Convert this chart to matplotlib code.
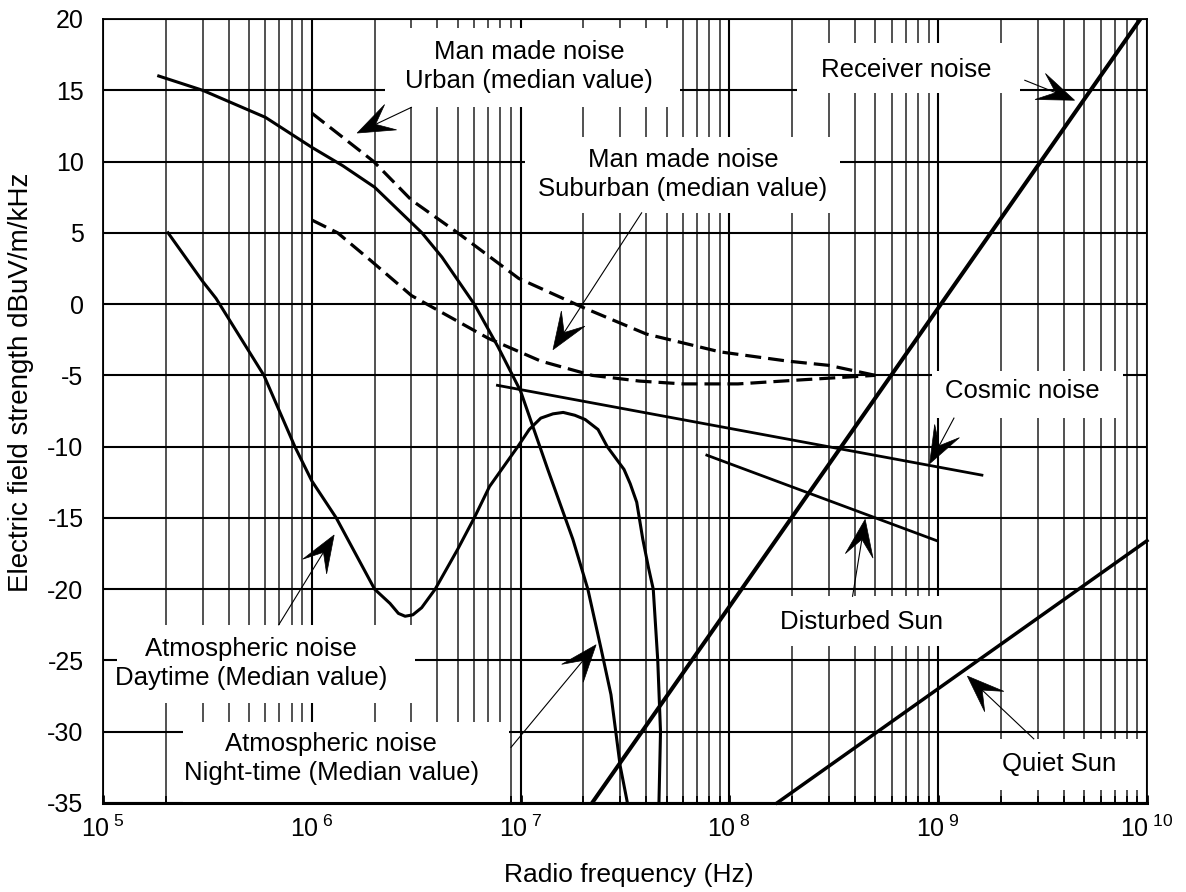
import matplotlib
matplotlib.use("Agg")
import matplotlib.pyplot as plt
from matplotlib.patches import Rectangle, Polygon
from matplotlib.transforms import IdentityTransform
from matplotlib.ticker import FixedLocator, NullFormatter
import numpy as np

plt.rcParams['font.family'] = ['Liberation Sans', 'DejaVu Sans']
plt.rcParams['mathtext.fontset'] = 'custom'
plt.rcParams['mathtext.rm'] = 'Liberation Sans'
plt.rcParams['mathtext.it'] = 'Liberation Sans:italic'
plt.rcParams['mathtext.bf'] = 'Liberation Sans:bold'

# ---- values (Hz, dBuV/m/kHz) ----
night_f = [1.85e5, 3e5, 6e5, 1e6, 1.41e6, 2e6, 3.37e6, 4.2e6, 6e6, 7.8e6, 1e7,
           1.35e7, 1.78e7, 2.1e7, 2.44e7, 2.71e7, 3e7, 3.25e7]
night_db = [16.0, 15.0, 13.1, 11.0, 9.7, 8.2, 5.0, 3.3, 0.0, -3.0, -6.1,
            -11.6, -16.5, -20.0, -24.3, -27.4, -32.4, -35.0]

day_f = [2.05e5, 3.0e5, 3.48e5, 5.9e5, 8.3e5, 1.0e6, 1.31e6, 2.0e6, 2.37e6, 2.6e6,
         2.8e6, 3.05e6, 3.36e6, 3.9e6, 5e6, 6e6, 7.1e6, 9.7e6, 1.1e7, 1.25e7, 1.43e7,
         1.6e7, 1.82e7, 2.04e7, 2.35e7, 2.6e7, 3.13e7, 3.35e7, 3.6e7, 3.85e7, 4.1e7,
         4.32e7, 4.54e7, 4.68e7, 4.6e7]
day_db = [5.0, 1.6, 0.4, -5.0, -10.0, -12.4, -15.0, -20.0, -21.0, -21.7,
          -21.9, -21.8, -21.3, -20.0, -17.2, -15.0, -12.8, -10.0, -8.8, -8.0, -7.7,
          -7.6, -7.8, -8.1, -8.8, -10.0, -11.6, -12.6, -13.9, -16.5, -18.5,
          -20.0, -25.0, -30.0, -35.0]

urban_f = [1e6, 1.98e6, 3e6, 5e6, 9.8e6, 2e7, 4e7, 9e7, 1.9e8, 3e8, 5e8]
urban_db = [13.4, 10.0, 7.3, 5.0, 1.8, -0.25, -2.1, -3.35, -4.0, -4.3, -5.0]

suburban_f = [1e6, 1.33e6, 1.9e6, 3e6, 7e6, 1.25e7, 2.2e7, 3.7e7, 6e7, 1.1e8, 2.3e8, 5e8]
suburban_db = [5.9, 5.0, 3.1, 0.6, -2.4, -4.0, -5.0, -5.4, -5.6, -5.6, -5.3, -5.0]

cosmic_f = [7.75e6, 1.62e9]
cosmic_db = [-5.7, -12.0]

disturbed_f = [7.8e7, 9.85e8]
disturbed_db = [-10.6, -16.6]

quiet_f = [1.69e8, 1e10]
quiet_db = [-35.0, -16.6]

receiver_f = [2.2e7, 9.3e9]
receiver_db = [-35.0, 20.0]

decades = [1e5, 1e6, 1e7, 1e8, 1e9, 1e10]
decade_labels = [r'$\mathregular{10^{\ 5}}$', r'$\mathregular{10^{\ 6}}$', r'$\mathregular{10^{\ 7}}$',
                 r'$\mathregular{10^{\ 8}}$', r'$\mathregular{10^{\ 9}}$', r'$\mathregular{10^{\ 10}}$']
db_ticks = [20, 15, 10, 5, 0, -5, -10, -15, -20, -25, -30, -35]
db_labels = ['20', '15', '10', '5', '0', '-5', '-10', '-15', '-20', '-25', '-30', '-35']

fig = plt.figure(figsize=(11.86, 8.92), dpi=100)
ax = fig.add_axes([0.0868, 0.0998, 0.8803, 0.8789])
ax.set_xscale('log')
ax.set_xlim(1e5, 1e10)
ax.set_ylim(-35, 20)

ax.xaxis.set_major_locator(FixedLocator(decades))
ax.set_xticklabels(decade_labels)
minor = [m * d for d in decades[:-1] for m in range(2, 10)]
ax.xaxis.set_minor_locator(FixedLocator(minor))
ax.xaxis.set_minor_formatter(NullFormatter())
ax.set_yticks(db_ticks)
ax.set_yticklabels(db_labels)

ax.set_axisbelow(True)
ax.grid(True, which='major', axis='both', color='black', lw=1.5)
ax.grid(True, which='minor', axis='x', color='#222222', lw=1.1)

ax.tick_params(axis='x', which='major', direction='in', length=6, width=2, labelsize=18, pad=9)
ax.tick_params(axis='x', which='minor', direction='in', length=5, width=1.3)
ax.tick_params(axis='y', length=0, labelsize=18, pad=14)
for side in ['top', 'left', 'right']:
    ax.spines[side].set_linewidth(1.3)
ax.spines['bottom'].set_linewidth(2.2)

# white label panels that hide the grid behind the captions
panels = [
    (2.24e6, 13.8, 5.8e7, 19.4),     # urban
    (1.05e7, 6.4, 3.4e8, 11.7),      # suburban
    (2.1e8, 14.8, 2.47e9, 18.3),     # receiver
    (9.3e8, -8.0, 7.7e9, -4.7),      # cosmic
    (1.48e8, -24.0, 1.27e9, -20.5),  # disturbed sun
    (1.77e9, -34.1, 9.4e9, -30.5),   # quiet sun
    (1.17e5, -28.0, 3.12e6, -22.5),  # atmospheric day
    (2.41e5, -35.0, 8.8e6, -29.3),   # atmospheric night
]
for x0, y0, x1, y1 in panels:
    ax.add_patch(Rectangle((x0, y0), x1 - x0, y1 - y0, facecolor='white',
                           edgecolor='none', zorder=1.5))

ax.plot(night_f, night_db, color='black', lw=2.2, zorder=2)
ax.plot(day_f, day_db, color='black', lw=2.2, zorder=2)
ax.plot(urban_f, urban_db, color='black', lw=2.3, dashes=(5, 2.2), zorder=2)
ax.plot(suburban_f, suburban_db, color='black', lw=2.3, dashes=(5, 2.2), zorder=2)
ax.plot(cosmic_f, cosmic_db, color='black', lw=2.0, zorder=2)
ax.plot(disturbed_f, disturbed_db, color='black', lw=2.0, zorder=2)
ax.plot(quiet_f, quiet_db, color='black', lw=2.5, zorder=2, clip_on=False)
ax.plot(receiver_f, receiver_db, color='black', lw=2.9, zorder=2)

labels = [
    ("Man made noise\nUrban (median value)", 1.1e7, 16.65),
    ("Man made noise\nSuburban (median value)", 6e7, 9.1),
    ("Receiver noise", 7e8, 16.4),
    ("Cosmic noise", 2.53e9, -6.1),
    ("Disturbed Sun", 4.27e8, -22.3),
    ("Quiet Sun", 3.78e9, -32.3),
    ("Atmospheric noise\nDaytime (Median value)", 5.1e5, -25.2),
    ("Atmospheric noise\nNight-time (Median value)", 1.24e6, -31.9),
]
for txt, x, y in labels:
    ax.text(x, y, txt, ha='center', va='center', fontsize=18.5, linespacing=1.25, zorder=3)

arrows = [
    ((3e6, 13.8), (1.65e6, 12.0)),
    ((3.8e7, 6.4), (1.43e7, -3.2)),
    ((2.6e9, 15.7), (4.5e9, 14.3)),
    ((1.19e9, -8.0), (9.1e8, -11.2)),
    ((3.89e8, -20.5), (4.47e8, -15.1)),
    ((2.87e9, -30.5), (1.38e9, -26.1)),
    ((6.95e5, -22.5), (1.28e6, -16.2)),
    ((9e6, -31.1), (2.3e7, -23.9)),
]


def stealth_arrow(ax, tail, tip, length=37, half_width=14, notch=0.55):
    # thin shaft plus a barbed, notched head drawn in pixels
    (x0, y0), (x1, y1) = ax.transData.transform([tail, tip])
    d = np.array([x1 - x0, y1 - y0])
    u = d / np.hypot(*d)
    n = np.array([-u[1], u[0]])
    p_tip = np.array([x1, y1])
    base = p_tip - length * u
    neck = p_tip - notch * length * u
    ax.plot([x0, neck[0]], [y0, neck[1]], color='black', lw=0.8,
            transform=IdentityTransform(), zorder=3)
    head = [p_tip, base + half_width * n, neck, base - half_width * n]
    ax.add_patch(Polygon(head, closed=True, facecolor='black', edgecolor='black',
                         lw=0.5, transform=IdentityTransform(), zorder=3))


for tail, tip in arrows:
    stealth_arrow(ax, tail, tip)

ax.set_xlabel("Radio frequency (Hz)", fontsize=19)
ax.xaxis.set_label_coords(0.504, -0.077)
ax.set_ylabel("Electric field strength dBuV/m/kHz", fontsize=20)
ax.yaxis.set_label_coords(-0.066, 0.537)

fig.savefig("out.png", dpi=100)
